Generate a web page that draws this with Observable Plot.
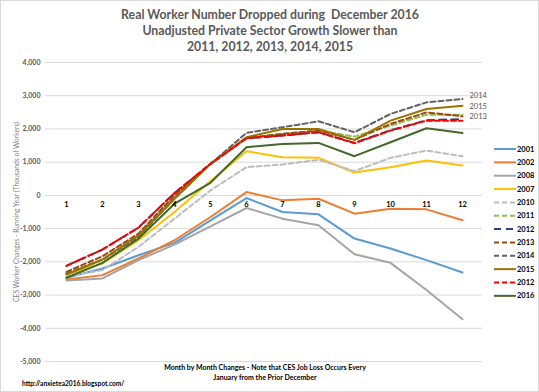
<!DOCTYPE html>
<html>
<head>
<meta charset="utf-8">
<script src="https://cdn.jsdelivr.net/npm/d3@7"></script>
<script src="https://cdn.jsdelivr.net/npm/@observablehq/plot@0.6"></script>
<style>
  html, body { margin: 0; padding: 0; background: #fff; }
  #chart { width: 539px; height: 392px; position: relative; }
</style>
</head>
<body>
<div id="chart"></div>
<script>
const months = [1, 2, 3, 4, 5, 6, 7, 8, 9, 10, 11, 12];
const yTicks = [-5000, -4000, -3000, -2000, -1000, 0, 1000, 2000, 3000, 4000];

const seriesNames = ["2001", "2002", "2008", "2007", "2010", "2011", "2012", "2013", "2014", "2015", "2012", "2016"];
const v2001  = [-2480, -2200, -1800, -1430, -750, -80, -500, -570, -1300, -1600, -1950, -2320];
const v2002  = [-2530, -2400, -1900, -1350, -650, 100, -150, -100, -550, -400, -420, -750];
const v2008  = [-2560, -2500, -1950, -1480, -930, -380, -700, -900, -1770, -2030, -2850, -3730];
const v2007  = [-2380, -2050, -1350, -500, 430, 1330, 1150, 1130, 690, 850, 1050, 900];
const v2010  = [-2450, -2250, -1550, -700, 150, 850, 930, 1070, 730, 1130, 1350, 1180];
const v2011  = [-2350, -1950, -1200, -50, 950, 1730, 1850, 1950, 1770, 2100, 2430, 2430];
const v2012b = [-2120, -1630, -970, 70, 950, 1720, 1800, 1900, 1580, 1960, 2260, 2300];
const v2013  = [-2300, -1830, -1150, 0, 950, 1730, 1850, 1950, 1670, 2150, 2500, 2380];
const v2014  = [-2350, -1930, -1250, -100, 950, 1880, 2050, 2230, 1900, 2450, 2800, 2900];
const v2015  = [-2380, -1930, -1200, -100, 950, 1750, 2000, 2000, 1670, 2250, 2600, 2700];
const v2012r = [-2120, -1630, -970, 70, 950, 1720, 1800, 1900, 1570, 1950, 2250, 2250];
const v2016  = [-2480, -2030, -1300, -250, 380, 1450, 1550, 1580, 1180, 1600, 2020, 1880];
const seriesValues = [v2001, v2002, v2008, v2007, v2010, v2011, v2012b, v2013, v2014, v2015, v2012r, v2016];
const seriesColors = ["#5B9BD5", "#ED7D31", "#A5A5A5", "#FFC000", "#BDBDBD", "#8CC152", "#264478", "#9E480E", "#636363", "#997300", "#FF0000", "#43682B"];
const seriesDash = [null, null, null, null, "5,3", "5,3", "7,5", "5,3", "5,3", null, "5,3", null];
const endLabels = ["2014", "2015", "2013"];
const endLabelIdx = [8, 9, 7];
const endLabelDy = [-3, 1, 0];

const titleLines = ["Real Worker Number Dropped during  December 2016", "Unadjusted Private Sector Growth Slower than", "2011, 2012, 2013, 2014, 2015"];
const xTitleLines = ["Month by Month Changes - Note that CES Job Loss Occurs Every", "January from the Prior December"];
const yTitle = "CES Worker Changes - Running Year (Thousands of Workers)";
const urlText = "http://anxietea2016.blogspot.com/";

const series = seriesNames.map((name, i) => ({
  name, color: seriesColors[i], dash: seriesDash[i],
  data: months.map((m, j) => ({month: m, value: seriesValues[i][j]}))
}));

const fmt = d => d3.format(",")(d).replace("\u2212", "-");

const lineMarks = series.map(s => Plot.line(s.data, {
  x: "month", y: "value", stroke: s.color, strokeWidth: 2,
  strokeDasharray: s.dash || undefined, curve: "linear"
}));

const endData = endLabels.map((t, i) => ({text: t, value: seriesValues[endLabelIdx[i]][11], dy: endLabelDy[i]}));

const svg = Plot.plot({
  width: 539, height: 392,
  marginTop: 62, marginBottom: 31, marginLeft: 45, marginRight: 57,
  style: {fontFamily: "Lato, 'Liberation Sans', sans-serif", background: "#fff"},
  x: {type: "point", domain: months, padding: 0.5, axis: null},
  y: {domain: [-5000, 4000], axis: null},
  marks: [
    Plot.gridY(yTicks, {stroke: "#d9d9d9", strokeOpacity: 1}),
    Plot.axisY(yTicks, {tickSize: 0, tickPadding: 5, tickFormat: fmt, fontSize: 7, fontWeight: "bold", color: "#595959", label: null}),
    ...lineMarks,
    Plot.text(months, {x: d => d, y: () => 0, dy: 9, text: d => String(d), fontSize: 7.5, fontWeight: "bold", fill: "#000"}),
    ...endData.map(d => Plot.text([d], {x: () => 12, y: "value", text: "text", dx: 7, dy: d.dy, textAnchor: "start", fontSize: 7.5, fill: "#595959"}))
  ]
});

const sel = d3.select(svg);
// border
sel.insert("rect", ":first-child").attr("x", 0.5).attr("y", 0.5).attr("width", 538).attr("height", 391)
  .attr("fill", "#fff").attr("stroke", "#d9d9d9");

// title
titleLines.forEach((t, i) => {
  sel.append("text").attr("x", 270).attr("y", 19 + i * 16).attr("text-anchor", "middle")
    .attr("font-size", 12.3).attr("font-weight", "bold").attr("fill", "#595959").text(t);
});
// y title
sel.append("text").attr("transform", "translate(19,212) rotate(-90)").attr("text-anchor", "middle")
  .attr("font-size", 6.8).attr("fill", "#7f7f7f").text(yTitle);
// x title
xTitleLines.forEach((t, i) => {
  sel.append("text").attr("x", 265).attr("y", 370 + i * 10).attr("text-anchor", "middle")
    .attr("font-size", 7).attr("font-weight", "bold").attr("fill", "#000").text(t);
});
// url
sel.append("text").attr("x", 22).attr("y", 386).attr("text-anchor", "start").attr("font-size", 6.6)
  .attr("font-weight", "bold").attr("fill", "#000").text(urlText);

// legend
const lg = sel.append("g");
series.forEach((s, i) => {
  const y = 149 + i * 13.35;
  lg.append("line").attr("x1", 494).attr("x2", 516).attr("y1", y).attr("y2", y)
    .attr("stroke", s.color).attr("stroke-width", 2).attr("stroke-dasharray", s.dash || null);
  lg.append("text").attr("x", 517).attr("y", y).attr("dy", "0.35em").attr("text-anchor", "start")
    .attr("font-size", 7.5).attr("font-weight", "bold").attr("fill", "#000").text(s.name);
});

document.getElementById("chart").appendChild(svg);
</script>
</body>
</html>
